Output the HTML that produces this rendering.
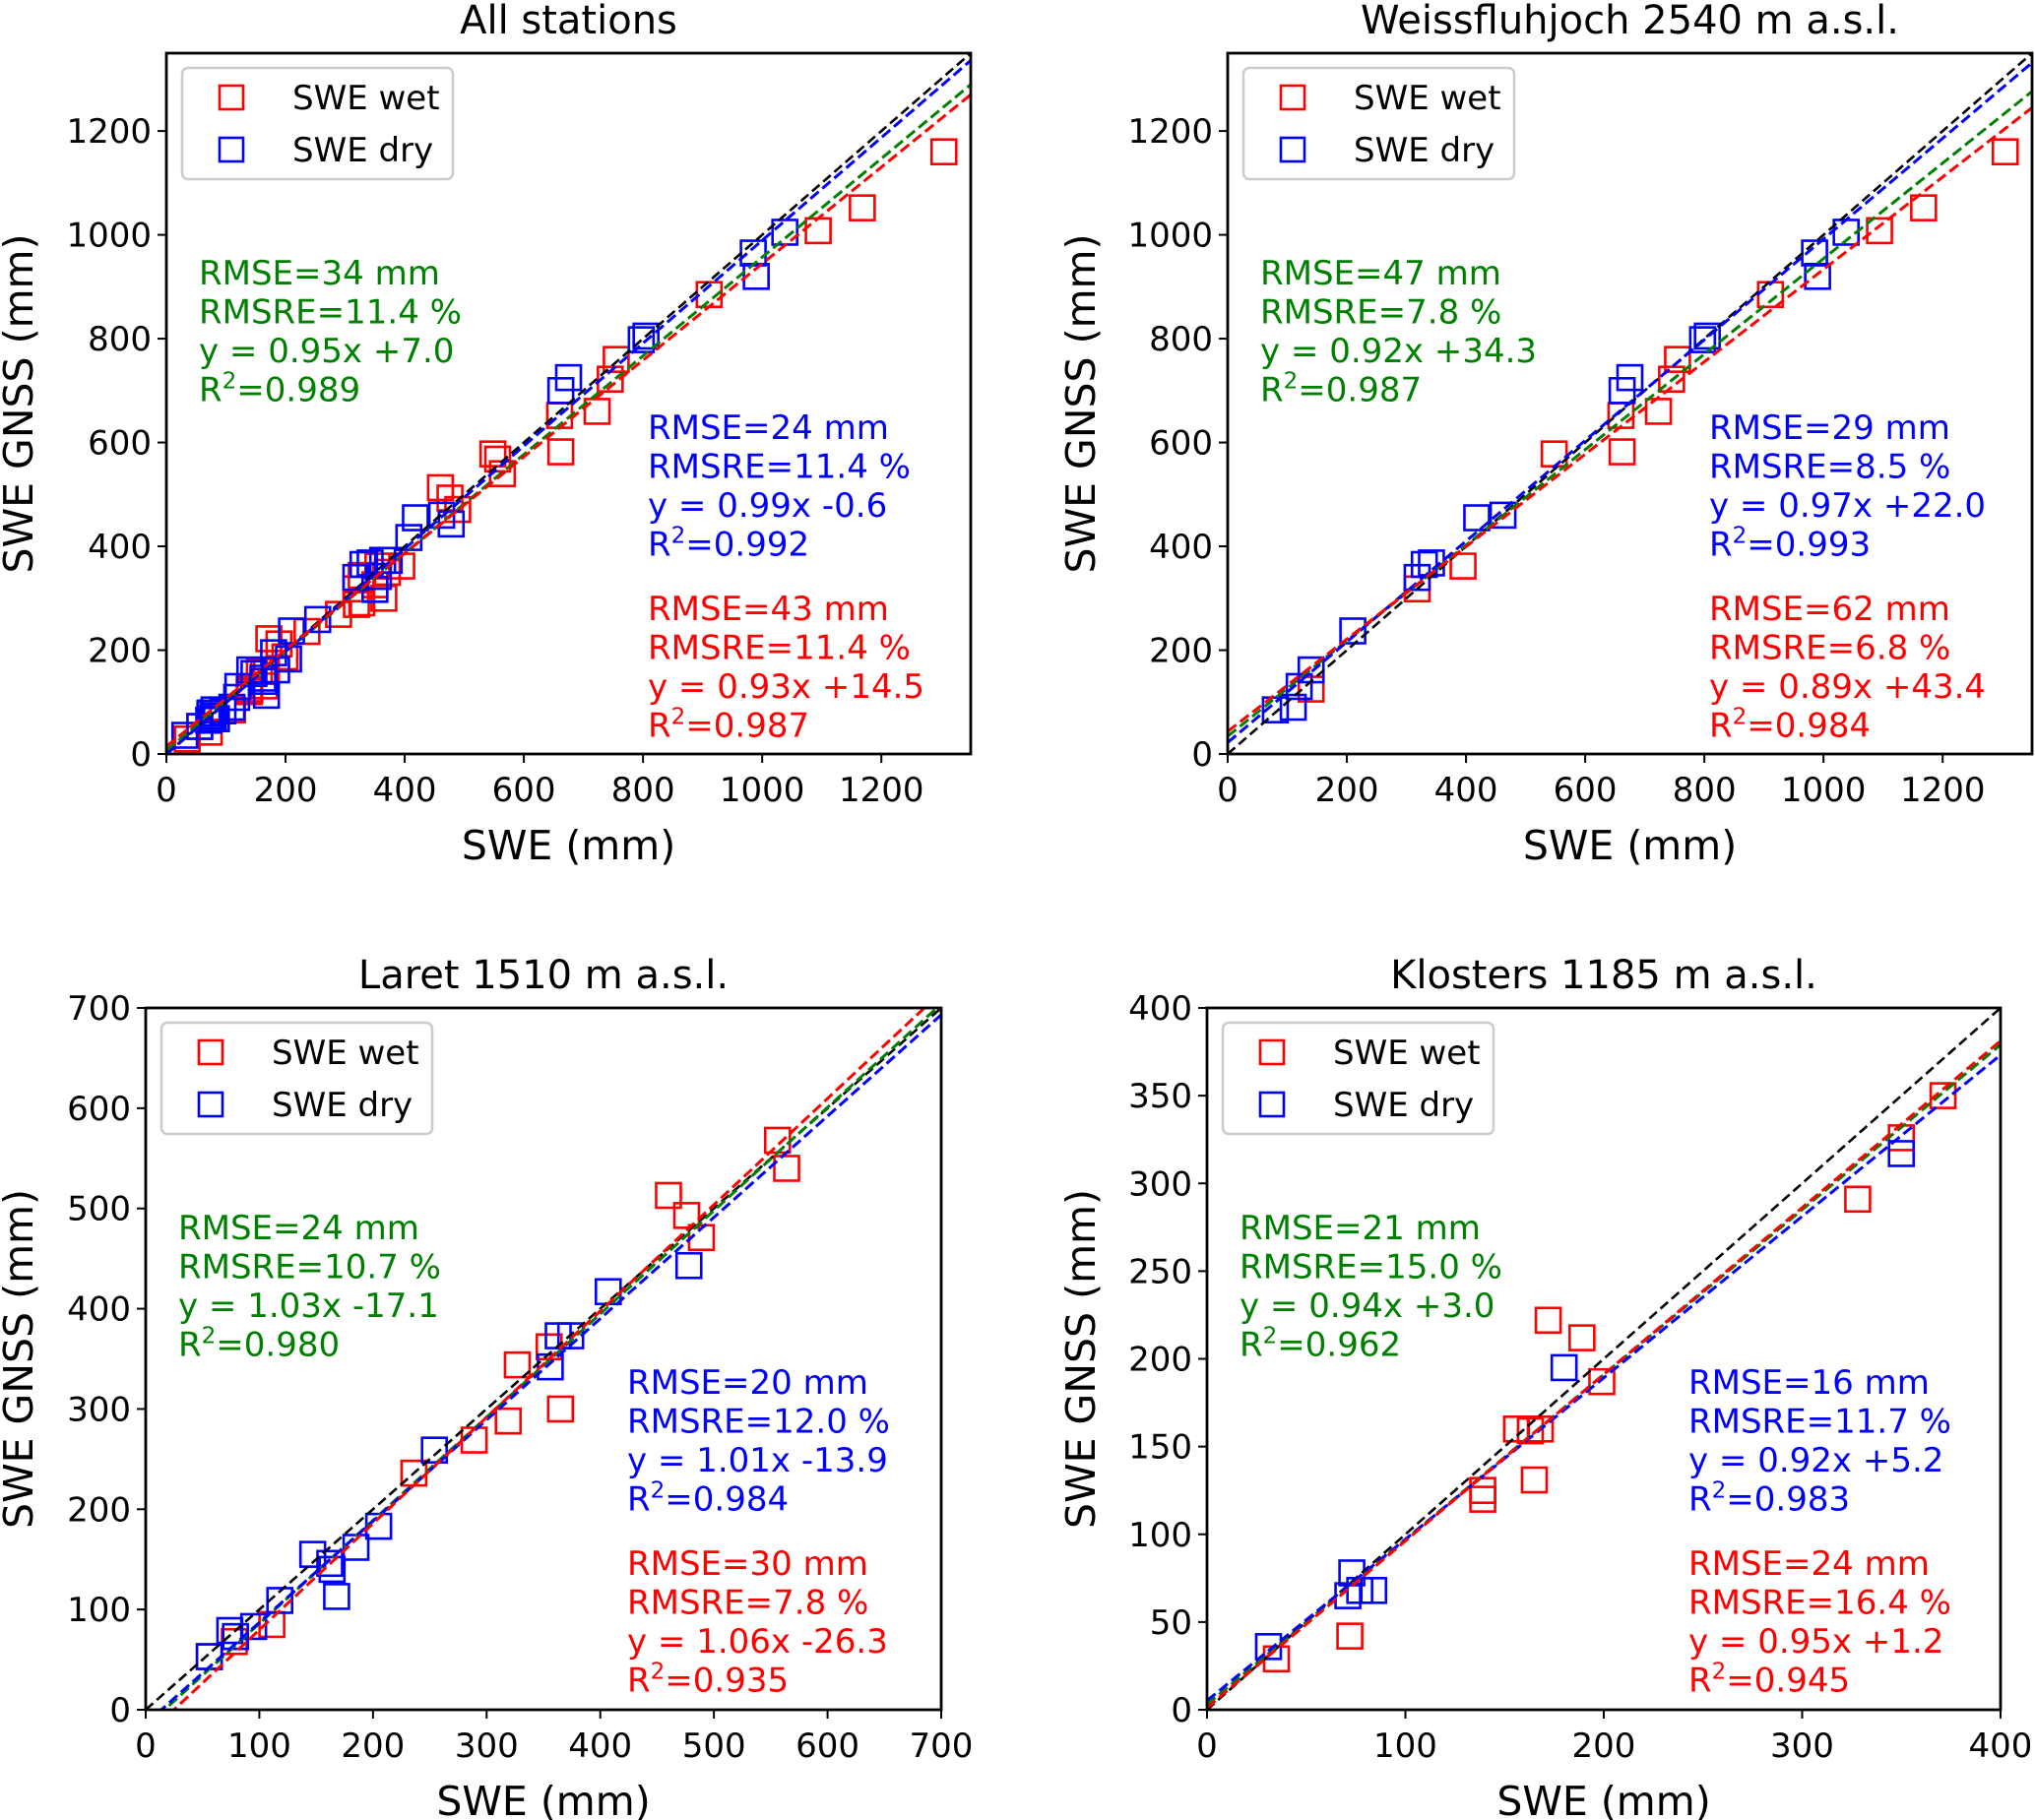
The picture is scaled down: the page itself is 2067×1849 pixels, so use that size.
<!DOCTYPE html>
<html><head><meta charset="utf-8"><style>
html,body{margin:0;padding:0;background:#fff}
svg{display:block;font-family:"DejaVu Sans","Liberation Sans",sans-serif}
</style></head><body>
<svg id="chart" width="2067" height="1849" viewBox="0 0 2067 1849" xmlns="http://www.w3.org/2000/svg"></svg>
<script>
// ---- data (mm) ----
const wetWfjX = [1305,1168,1094,911,723,662,660,745,755,548,395,318,140];
const wetWfjY = [1160,1052,1008,885,660,582,652,722,760,578,362,318,125];
const dryWfjX = [985,990,1038,805,797,662,675,418,462,318,330,342,210,140,120,110,80];
const dryWfjY = [965,920,1005,805,798,700,725,455,460,340,365,368,237,162,130,90,85];
const wetLarX = [556,564,460,476,489,327,355,365,319,289,236,111,78,56];
const wetLarY = [568,540,513,493,471,344,362,300,288,269,236,85,68,53];
const dryLarX = [478,407,363,374,356,254,205,185,147,162,164,168,118,95,79,74,56];
const dryLarY = [443,417,373,373,342,259,183,162,155,146,140,113,109,83,73,79,53];
const wetKloX = [371,350,328,172,189,199,156,168,165,139,139,72,35,163];
const wetKloY = [350,326,291,222,212,187,160,160,131,125,120,42,29,159];
const dryKloX = [350,180,73,71,77,84,31];
const dryKloY = [317,195,78,65,68,68,36];
// regression coefficients [slope, intercept] : all, dry, wet
const fitAll = [[0.95,7.0],[0.99,-0.6],[0.93,14.5]];
const fitWfj = [[0.92,34.3],[0.97,22.0],[0.89,43.4]];
const fitLar = [[1.03,-17.1],[1.01,-13.9],[1.06,-26.3]];
const fitKlo = [[0.94,3.0],[0.92,5.2],[0.95,1.2]];
// statistics text
const statsAll = [["RMSE=34 mm","RMSRE=11.4 %","y = 0.95x +7.0","0.989"],["RMSE=24 mm","RMSRE=11.4 %","y = 0.99x -0.6","0.992"],["RMSE=43 mm","RMSRE=11.4 %","y = 0.93x +14.5","0.987"]];
const statsWfj = [["RMSE=47 mm","RMSRE=7.8 %","y = 0.92x +34.3","0.987"],["RMSE=29 mm","RMSRE=8.5 %","y = 0.97x +22.0","0.993"],["RMSE=62 mm","RMSRE=6.8 %","y = 0.89x +43.4","0.984"]];
const statsLar = [["RMSE=24 mm","RMSRE=10.7 %","y = 1.03x -17.1","0.980"],["RMSE=20 mm","RMSRE=12.0 %","y = 1.01x -13.9","0.984"],["RMSE=30 mm","RMSRE=7.8 %","y = 1.06x -26.3","0.935"]];
const statsKlo = [["RMSE=21 mm","RMSRE=15.0 %","y = 0.94x +3.0","0.962"],["RMSE=16 mm","RMSRE=11.7 %","y = 0.92x +5.2","0.983"],["RMSE=24 mm","RMSRE=16.4 %","y = 0.95x +1.2","0.945"]];
const ticksBig = [0,200,400,600,800,1000,1200];
const ticksLar = [0,100,200,300,400,500,600,700];
const ticksKloX = [0,100,200,300,400];
const ticksKloY = [0,50,100,150,200,250,300,350,400];

const NS = "http://www.w3.org/2000/svg";
const svg = document.getElementById('chart');
function mk(tag, attrs, parent){const e=document.createElementNS(NS,tag);for(const k in attrs)e.setAttribute(k,attrs[k]);(parent||svg).appendChild(e);return e;}

const panels = [
 {id:'all', title:'All stations', L:169,R:986,T:54,B:766, max:1350, xt:ticksBig, yt:ticksBig,
  wx:[].concat(wetWfjX,wetLarX,wetKloX), wy:[].concat(wetWfjY,wetLarY,wetKloY),
  dx:[].concat(dryWfjX,dryLarX,dryKloX), dy:[].concat(dryWfjY,dryLarY,dryKloY), fit:fitAll, stats:statsAll},
 {id:'weissfluhjoch', title:'Weissfluhjoch 2540 m a.s.l.', L:1247,R:2064,T:54,B:766, max:1350, xt:ticksBig, yt:ticksBig,
  wx:wetWfjX, wy:wetWfjY, dx:dryWfjX, dy:dryWfjY, fit:fitWfj, stats:statsWfj},
 {id:'laret', title:'Laret 1510 m a.s.l.', L:148,R:956,T:1024,B:1737, max:700, xt:ticksLar, yt:ticksLar,
  wx:wetLarX, wy:wetLarY, dx:dryLarX, dy:dryLarY, fit:fitLar, stats:statsLar},
 {id:'klosters', title:'Klosters 1185 m a.s.l.', L:1226,R:2032,T:1024,B:1737, max:400, xt:ticksKloX, yt:ticksKloY,
  wx:wetKloX, wy:wetKloY, dx:dryKloX, dy:dryKloY, fit:fitKlo, stats:statsKlo}
];

panels.forEach((p,pi)=>{
  const sx = v => p.L + v/p.max*(p.R-p.L);
  const sy = v => p.B - v/p.max*(p.B-p.T);
  const g = mk('g',{});
  
  
  const cp = mk('clipPath',{id:'clip'+pi}, g);
  mk('rect',{x:p.L,y:p.T,width:p.R-p.L,height:p.B-p.T},cp);

  const t = mk('text',{x:(p.L+p.R)/2,y:p.T-20,'text-anchor':'middle','font-size':40,fill:'#000'},g);
  t.textContent = p.title;
  
  

  const sg = mk('g',{'clip-path':'url(#clip'+pi+')'},g);
  const drawPts=(xs,ys,col,name)=>{
    xs.forEach((xv,i)=>{
      const r = mk('rect',{x:sx(xv)-12.5,y:sy(ys[i])-12.5,width:25,height:25,fill:'none',stroke:col,'stroke-width':2.6},sg);
      
      
    });
  };
  drawPts(p.wx,p.wy,'#ff0000','point-swe-wet');
  drawPts(p.dx,p.dy,'#0000ff','point-swe-dry');

  const one = mk('line',{x1:sx(0),y1:sy(0),x2:sx(p.max),y2:sy(p.max),stroke:'#000','stroke-width':2.6,'stroke-dasharray':'10,5'},sg);
  
  
  const fcols = ['#008000','#0000ff','#ff0000'];
  const fnames = ['fit-line-all','fit-line-dry','fit-line-wet'];
  p.fit.forEach((f,i)=>{
    const ln = mk('line',{x1:sx(0),y1:sy(f[1]),x2:sx(p.max),y2:sy(f[0]*p.max+f[1]),stroke:fcols[i],'stroke-width':3,'stroke-dasharray':'11,5'},sg);
    
    
  });

  const fr = mk('rect',{x:p.L,y:p.T,width:p.R-p.L,height:p.B-p.T,fill:'none',stroke:'#000','stroke-width':2.8},g);
  
  

  p.xt.forEach(v=>{
    mk('line',{x1:sx(v),y1:p.B,x2:sx(v),y2:p.B+9,stroke:'#000','stroke-width':2},g);
    const tl = mk('text',{x:sx(v),y:p.B+48,'text-anchor':'middle','font-size':34,fill:'#000'},g);
    tl.textContent = v;
    
    
  });
  p.yt.forEach(v=>{
    mk('line',{x1:p.L-9,y1:sy(v),x2:p.L,y2:sy(v),stroke:'#000','stroke-width':2},g);
    const tl = mk('text',{x:p.L-15,y:sy(v)+12,'text-anchor':'end','font-size':34,fill:'#000'},g);
    tl.textContent = v;
    
    
  });
  const xl = mk('text',{x:(p.L+p.R)/2,y:p.B+107,'text-anchor':'middle','font-size':41,fill:'#000'},g);
  xl.textContent = 'SWE (mm)';
  
  
  const ycx = p.L < 500 ? 33 : 1112;
  const yl = mk('text',{x:ycx,y:(p.T+p.B)/2,'text-anchor':'middle','font-size':41,fill:'#000',transform:'rotate(-90 '+ycx+' '+((p.T+p.B)/2)+')'},g);
  yl.textContent = 'SWE GNSS (mm)';
  
  

  const lg = mk('g',{},g);
  
  
  mk('rect',{x:p.L+16,y:p.T+15,width:275,height:113,rx:6,fill:'#fff','fill-opacity':0.8,stroke:'#cccccc','stroke-width':2.5},lg);
  [['SWE wet','#ff0000'],['SWE dry','#0000ff']].forEach((e,i)=>{
    const cy = p.T+45+i*53;
    mk('rect',{x:p.L+54,y:cy-12,width:24,height:24,fill:'none',stroke:e[1],'stroke-width':2.6},lg);
    const lt = mk('text',{x:p.L+128,y:cy+12,'font-size':34,fill:'#000'},lg);
    lt.textContent = e[0];
    
    
  });

  const anchors = [[p.L+33,p.T+235],[p.L+489,p.T+392],[p.L+489,p.T+576]];
  const snames = ['stats-all','stats-dry','stats-wet'];
  p.stats.forEach((s,i)=>{
    const [ax,ay] = anchors[i];
    const sgp = mk('g',{fill:fcols[i],'font-size':34},g);
    
    
    for(let k=0;k<3;k++){
      const tx = mk('text',{x:ax,y:ay+k*39.5},sgp);
      tx.textContent = s[k];
    }
    const r2 = mk('text',{x:ax,y:ay+3*39.5},sgp);
    const a = mk('tspan',{},r2); a.textContent='R';
    const b = mk('tspan',{dy:-13,'font-size':23},r2); b.textContent='2';
    const c = mk('tspan',{dy:13},r2); c.textContent='='+s[3];
  });
});
</script>
</body></html>
